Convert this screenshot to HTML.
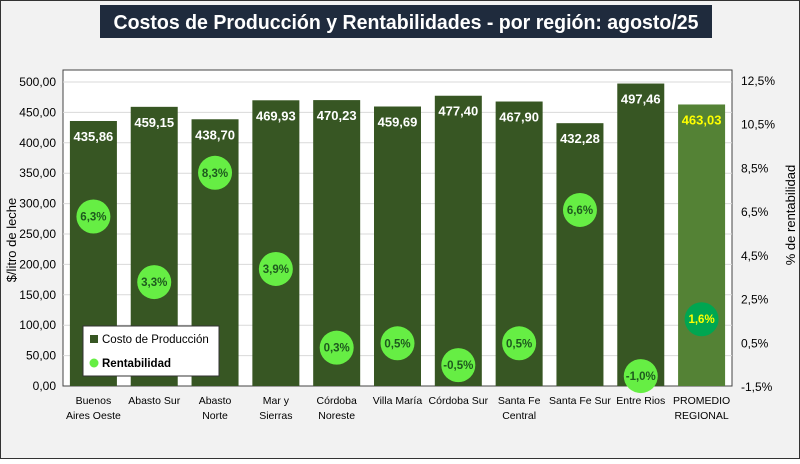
<!DOCTYPE html>
<html><head><meta charset="utf-8"><style>
body{margin:0;width:800px;height:459px;overflow:hidden;background:#fff;font-family:"Liberation Sans",sans-serif}
</style></head><body>
<svg id="c" width="800" height="459" xmlns="http://www.w3.org/2000/svg" font-family="Liberation Sans, sans-serif">
<rect x="0.5" y="0.5" width="799" height="458" fill="#f2f2f2" stroke="#333"/>
<rect x="100" y="5" width="612" height="33" fill="#1f2b3d"/>
<text x="406" y="29" text-anchor="middle" fill="#fff" font-size="20" font-weight="bold" textLength="585" lengthAdjust="spacingAndGlyphs">Costos de Producción  y Rentabilidades  - por región: agosto/25</text>
<rect x="63" y="70" width="669" height="316" fill="#fff" stroke="#444"/>
<g id="grid"></g><g id="bars"></g><g id="dots"></g><g id="axes"></g>
<text transform="translate(16,240) rotate(-90)" text-anchor="middle" font-size="13" fill="#000">$/litro de leche</text>
<text transform="translate(795,215) rotate(-90)" text-anchor="middle" font-size="13" fill="#000">% de rentabilidad</text>
<g>
<rect x="83" y="326" width="136" height="50" fill="#fff" stroke="#333"/>
<rect x="90" y="335" width="8" height="8" fill="#375623"/>
<text x="102" y="343" font-size="11.5">Costo de Producción</text>
<circle cx="94" cy="363" r="4.5" fill="#66ee44"/>
<text x="102" y="367" font-size="11.5" font-weight="bold">Rentabilidad</text>
</g>
</svg>
<script>
const categories=[["Buenos","Aires Oeste"],["Abasto Sur"],["Abasto","Norte"],["Mar y","Sierras"],["Córdoba","Noreste"],["Villa María"],["Córdoba Sur"],["Santa Fe","Central"],["Santa Fe Sur"],["Entre Rios"],["PROMEDIO","REGIONAL"]];
const costs=[435.86,459.15,438.70,469.93,470.23,459.69,477.40,467.90,432.28,497.46,463.03];
const profits=[6.3,3.3,8.3,3.9,0.3,0.5,-0.5,0.5,6.6,-1.0,1.6];
const leftTicks=[0,50,100,150,200,250,300,350,400,450,500];
const rightTicks=[-1.5,0.5,2.5,4.5,6.5,8.5,10.5,12.5];
const NS="http://www.w3.org/2000/svg";
const X0=63,X1=732,Y0=386;
const yL=v=>Y0-v*(386-82)/500;
const yR=v=>387-(v+1.5)*(387-81)/14;
const bw=(X1-X0)/categories.length;
const xc=i=>X0+bw*(i+0.5);
const fmt=(v,d)=>v.toFixed(d).replace('.',',');
function mk(p,t,a,txt){const e=document.createElementNS(NS,t);for(const k in a)e.setAttribute(k,a[k]);if(txt!==undefined)e.textContent=txt;document.getElementById(p).appendChild(e);return e;}
leftTicks.forEach(v=>{
 if(v>0){const g=mk('grid','line',{x1:X0,x2:X1,y1:yL(v),y2:yL(v),stroke:'#d9d9d9'});
 
 }
 const t=mk('axes','text',{x:56,y:yL(v)+4,'text-anchor':'end','font-size':12},fmt(v,2));
 
 
});
rightTicks.forEach(v=>{
 const t=mk('axes','text',{x:741,y:yR(v)+4,'font-size':12},fmt(v,1)+'%');
 
 
});
categories.forEach((c,i)=>{
 const last=i===categories.length-1;
 const r=mk('bars','rect',{x:xc(i)-23.5,y:yL(costs[i]),width:47,height:Y0-yL(costs[i]),fill:last?'#548235':'#375623'});
 
 
 const t=mk('bars','text',{x:xc(i),y:yL(costs[i])+20,'text-anchor':'middle','font-size':13,'font-weight':'bold',fill:last?'#ffff00':'#fff'},fmt(costs[i],2));
 
 
 const d=mk('dots','circle',{cx:xc(i),cy:yR(profits[i]),r:17,fill:last?'#00a651':'#66ee44'});
 
 
 const pt=mk('dots','text',{x:xc(i),y:yR(profits[i])+4,'text-anchor':'middle','font-size':11.5,'font-weight':'bold',fill:last?'#ffff00':'#1e5a1e'},fmt(profits[i],1)+'%');
 
 
 c.forEach((ln,j)=>{
  const xl=mk('axes','text',{x:xc(i),y:404+j*15,'text-anchor':'middle','font-size':10.5},ln);
  
  
 });
});
</script>
</body></html>
